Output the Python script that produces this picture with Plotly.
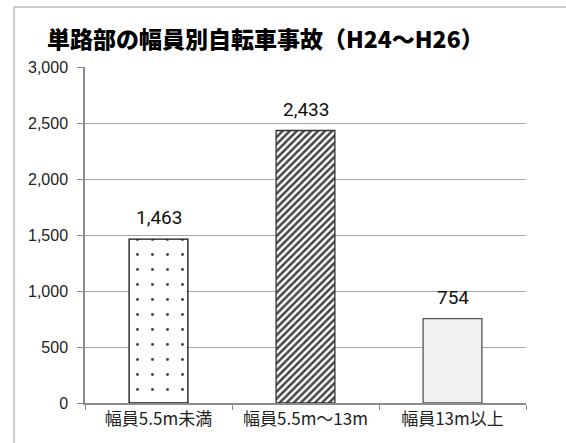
import plotly.graph_objects as go

categories = ["幅員5.5m未満", "幅員5.5m～13m", "幅員13m以上"]
values = [1463, 2433, 754]
labels = ["1,463", "2,433", "754"]
y_ticks = [0, 500, 1000, 1500, 2000, 2500, 3000]
y_tick_text = ["0", "500", "1,000", "1,500", "2,000", "2,500", "3,000"]
title_text = "単路部の幅員別自転車事故（H24～H26）"

W, H = 566, 443
L, R, T, B = 85, 40, 67, 40
pw, ph = W - L - R, H - T - B

fig = go.Figure()
fig.add_trace(go.Bar(
    x=categories, y=values,
    marker=dict(
        color=["white", "white", "#f2f2f2"],
        line=dict(color=["#111", "#333", "#555"], width=1.3),
        pattern=dict(
            shape=[".", "/", ""],
            fgcolor="#000",
            fgopacity=1,
            size=[15, 5, 8],
            solidity=[0.03, 0.5, 0.3],
            fillmode="overlay",
        ),
    ),
    width=0.4,
    hoverinfo="skip",
))

for c, v, t in zip(categories, values, labels):
    fig.add_annotation(
        x=c, y=v, text=t, showarrow=False,
        yanchor="bottom", yshift=8,
        font=dict(family="Roboto", size=19, color="#111"),
    )

# outer frame (left and top edges of the original chart border)
fx = (14 - L) / pw
fy = 1 + (T - 7) / ph
fig.add_shape(type="line", xref="paper", yref="paper", x0=fx, x1=fx, y0=fy, y1=-0.5,
              line=dict(color="#bbbbbb", width=1.5))
fig.add_shape(type="line", xref="paper", yref="paper", x0=fx, x1=1.5, y0=fy, y1=fy,
              line=dict(color="#bbbbbb", width=1.5))

fig.update_layout(
    width=W, height=H,
    margin=dict(l=L, r=R, t=T, b=B),
    paper_bgcolor="white", plot_bgcolor="white",
    showlegend=False,
    title=dict(
        text=title_text,
        xref="container", yref="container",
        x=47 / W, xanchor="left",
        y=1 - 40 / H, yanchor="middle",
        font=dict(family="Noto Sans CJK JP", size=23, color="black", weight=900),
    ),
    xaxis=dict(
        type="category",
        showline=True, linecolor="#8c8c8c", linewidth=1.5,
        ticks="outside", tickson="boundaries", ticklen=5, tickcolor="#8c8c8c",
        tickfont=dict(family="Noto Sans CJK JP", size=17, color="#222"),
        showgrid=False,
    ),
    yaxis=dict(
        range=[0, 3000],
        tickvals=y_ticks, ticktext=y_tick_text,
        showline=True, linecolor="#8c8c8c", linewidth=1.5,
        ticks="outside", ticklen=6, tickcolor="#8c8c8c",
        ticklabelstandoff=6,
        showgrid=True, gridcolor="#a6a6a6", gridwidth=1,
        tickfont=dict(family="Liberation Sans", size=16, color="#222"),
        zeroline=False,
    ),
)

fig.write_html("out.html")
